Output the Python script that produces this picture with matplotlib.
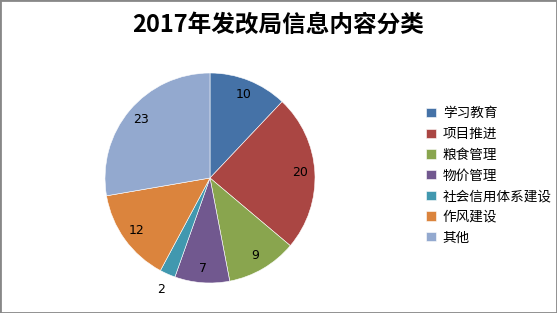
import matplotlib.pyplot as plt
import numpy as np

plt.rcParams['font.family'] = ['Noto Sans CJK SC', 'DejaVu Sans']

categories = ['学习教育', '项目推进', '粮食管理', '物价管理', '社会信用体系建设', '作风建设', '其他']
values = [10, 20, 9, 7, 2, 12, 23]
colors = ['#4572A7', '#AA4643', '#89A54E', '#71588F', '#4198AF', '#DB843D', '#93A9CF']

fig = plt.figure(figsize=(5.57, 3.13), dpi=100)
W, H = 557, 313
cx, cy, r = 210, 178, 105
ax = fig.add_axes([(cx - r) / W, (H - cy - r) / H, 2 * r / W, 2 * r / H])

wedges, _ = ax.pie(values, colors=colors, startangle=90, counterclock=False,
                   radius=1, wedgeprops=dict(edgecolor='white', linewidth=0.4))
ax.set_xlim(-1, 1)
ax.set_ylim(-1, 1)
ax.set_aspect('equal')
ax.axis('off')

for w, v in zip(wedges, values):
    mid = np.deg2rad((w.theta1 + w.theta2) / 2)
    d = 0.86 if v > 3 else 1.16
    ax.text(d * np.cos(mid), d * np.sin(mid), str(v), ha='center', va='center',
            fontsize=9, color='black', family=['DejaVu Sans'], clip_on=False)

fig.text(0.5, 1 - 25 / H, '2017年发改局信息内容分类', ha='center', va='center',
         fontsize=17, fontweight='bold')

fig.legend(wedges, categories, loc='upper left', bbox_to_anchor=(421 / W, 1 - 101 / H),
           frameon=False, fontsize=9.8, handlelength=0.7, handleheight=0.7,
           handletextpad=0.5, labelspacing=0.49, borderaxespad=0)

fig.patches.append(plt.Rectangle((0, 0), 1, 1, transform=fig.transFigure, fill=False,
                                 edgecolor='#888888', linewidth=2))

fig.savefig('out.png', dpi=100)
